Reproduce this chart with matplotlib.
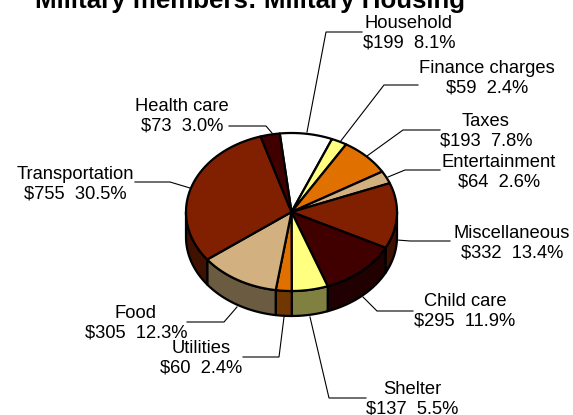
import numpy as np
import matplotlib
matplotlib.use("Agg")
import matplotlib.pyplot as plt

plt.rcParams['font.family'] = ['Liberation Sans', 'DejaVu Sans']

title = "Military members: Military Housing"
categories = ["Household", "Finance charges", "Taxes", "Entertainment", "Miscellaneous",
              "Child care", "Shelter", "Utilities", "Food", "Transportation", "Health care"]
dollars = [199, 59, 193, 64, 332, 295, 137, 60, 305, 755, 73]
percents = [8.1, 2.4, 7.8, 2.6, 13.4, 11.9, 5.5, 2.4, 12.3, 30.5, 3.0]
top_colors = ["#FFFFFF", "#FFFF80", "#E07000", "#D2B080", "#802000", "#400000",
              "#FFFF80", "#E07000", "#D2B080", "#802000", "#400000"]
side_colors = ["#808080", "#808040", "#703800", "#6B5B40", "#401000", "#200000",
               "#808040", "#703800", "#6B5B40", "#401000", "#200000"]

W, H = 573, 415
CX, CY, RX, RY, DEPTH = 291.5, 212, 105.5, 79, 25
START = -6.4
EW = 1.6

text_pos = [(409, 33.5), (487, 78.5), (486, 131), (499, 172), (512, 243.5), (465, 311.5),
            (412, 399.5), (201, 358), (136, 323), (75, 184), (182, 116)]
leaders = [[(362, 32), (326, 32), (307, 132)],
           [(418, 85), (384, 85), (340, 142)],
           [(440, 130), (403, 130), (367, 156)],
           [(440, 170), (405, 170), (388, 177)],
           [(450, 241), (410, 241), (397, 240)],
           [(413, 311), (377, 311), (363, 297)],
           [(366, 398), (329, 398), (310, 317)],
           [(243, 357), (279, 357), (284, 317)],
           [(187, 322), (224, 322), (237, 307)],
           [(135, 182), (170, 182), (190, 188)],
           [(229, 126), (266, 126), (272, 133)]]

fig = plt.figure(figsize=(W / 100, H / 100), dpi=100, facecolor="white")
ax = fig.add_axes([0, 0, 1, 1])
ax.set_xlim(0, W)
ax.set_ylim(H, 0)
ax.axis("off")


def arc(a0, a1):
    t = np.radians(np.linspace(a0, a1, max(2, int(abs(a1 - a0) * 2) + 2)))
    return CX + RX * np.sin(t), CY - RY * np.cos(t)


angles = START + np.concatenate([[0], np.cumsum(dollars)]) * 360.0 / sum(dollars)

# sides (front half only)
for a0, a1, c in zip(angles[:-1], angles[1:], side_colors):
    lo, hi = max(a0, 90), min(a1, 270)
    if hi <= lo:
        continue
    x, y = arc(lo, hi)
    ax.fill(np.r_[x, x[::-1]], np.r_[y, y[::-1] + DEPTH], facecolor=c,
            edgecolor="black", linewidth=EW, joinstyle="round", zorder=2)

# tops
for a0, a1, c in zip(angles[:-1], angles[1:], top_colors):
    x, y = arc(a0, a1)
    ax.fill(np.r_[CX, x], np.r_[CY, y], facecolor=c, edgecolor="black",
            linewidth=EW, joinstyle="round", zorder=3)

for pts in leaders:
    xs, ys = zip(*pts)
    ax.plot(xs, ys, color="black", lw=0.8, zorder=1, solid_joinstyle="miter")

for name, d, p, (tx, ty) in zip(categories, dollars, percents, text_pos):
    ax.text(tx, ty, f"{name}\n${d}  {p:.1f}%", ha="center", va="center", multialignment="center",
            fontsize=13.2, color="black", linespacing=1.17, zorder=5)

ax.text(250, 8, title, ha="center", va="baseline", fontsize=18.6, fontweight="bold", color="black", zorder=5)

fig.savefig("out.png", dpi=100, facecolor="white")
